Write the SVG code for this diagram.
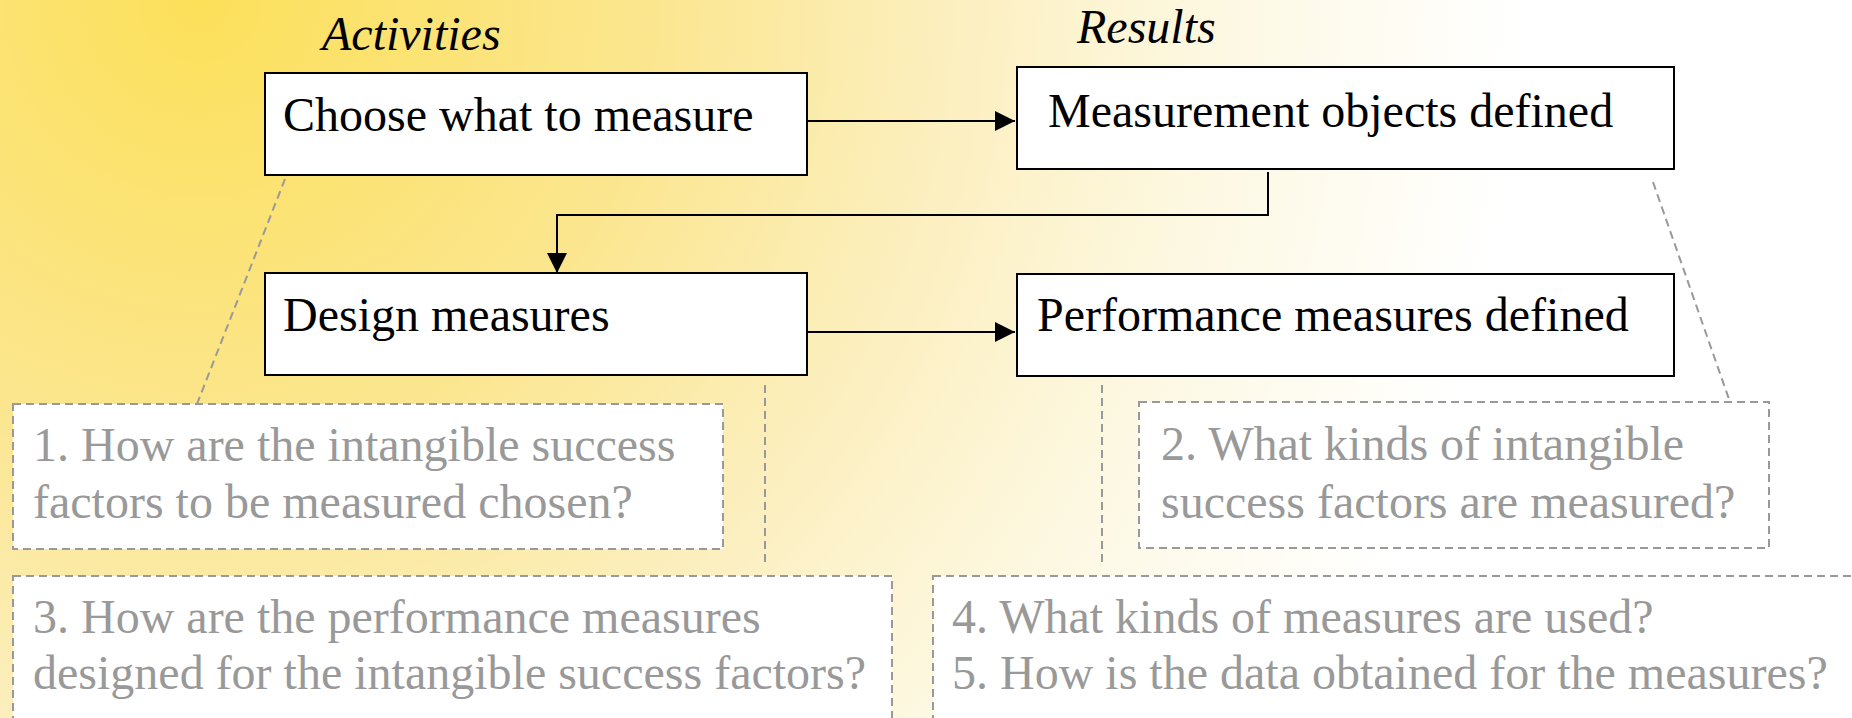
<svg xmlns="http://www.w3.org/2000/svg" width="1852" height="718" viewBox="0 0 1852 718">
  <defs>
    <radialGradient id="bg" gradientUnits="userSpaceOnUse" cx="200" cy="0" r="1500">
      <stop offset="0" stop-color="#fce05a"/>
      <stop offset="0.3" stop-color="#fbe68f"/>
      <stop offset="0.5" stop-color="#fcefbf"/>
      <stop offset="0.7" stop-color="#fdf9e6"/>
      <stop offset="0.88" stop-color="#ffffff"/>
    </radialGradient>
    <marker id="arrow" viewBox="0 0 20 20" refX="20" refY="10" markerWidth="20" markerHeight="20" markerUnits="userSpaceOnUse" orient="auto">
      <path d="M0,0 L20,10 L0,20 Z" fill="#000"/>
    </marker>
    <style>
      .box { fill: #ffffff; stroke: #000000; stroke-width: 2; }
      .qbox { fill: #ffffff; stroke: #999999; stroke-width: 2; stroke-dasharray: 8 5; }
      text { font-family: 'Liberation Serif', serif; font-size: 48px; }
      .lbl { fill: #000000; }
      .head { font-style: italic; fill: #000000; }
      .q { fill: #999999; }
      .conn { fill: none; stroke: #000000; stroke-width: 2; }
      .dash { fill: none; stroke: #999999; stroke-width: 2; stroke-dasharray: 8 5; }
    </style>
  </defs>

  <rect x="0" y="0" width="1852" height="718" fill="url(#bg)"/>

  <g id="headers" font-family="Liberation Serif, serif">
    <text class="head" x="322" y="50">Activities</text>
    <text class="head" x="1077" y="43">Results</text>
  </g>

  <g id="connectors">
    <line class="conn" x1="807" y1="121" x2="1015" y2="121" marker-end="url(#arrow)"/>
    <polyline class="conn" points="1268,172 1268,215 557,215 557,273" marker-end="url(#arrow)"/>
    <line class="conn" x1="807" y1="332" x2="1015" y2="332" marker-end="url(#arrow)"/>
    <line class="dash" x1="285" y1="179" x2="197" y2="404"/>
    <line class="dash" x1="1653" y1="182" x2="1730" y2="402"/>
    <line class="dash" x1="765" y1="385" x2="765" y2="562"/>
    <line class="dash" x1="1102" y1="385" x2="1102" y2="562"/>
  </g>

  <g id="choose">
    <rect class="box" x="265" y="73" width="542" height="102"/>
    <text class="lbl" x="283" y="131">Choose what to measure</text>
  </g>
  <g id="objects">
    <rect class="box" x="1017" y="67" width="657" height="102"/>
    <text class="lbl" x="1048" y="127">Measurement objects defined</text>
  </g>
  <g id="design">
    <rect class="box" x="265" y="273" width="542" height="102"/>
    <text class="lbl" x="283" y="331">Design measures</text>
  </g>
  <g id="performance">
    <rect class="box" x="1017" y="274" width="657" height="102"/>
    <text class="lbl" x="1037" y="331">Performance measures defined</text>
  </g>

  <g id="q1">
    <rect class="qbox" x="13" y="404" width="710" height="145"/>
    <text class="q" x="33" y="461">1. How are the intangible success</text>
    <text class="q" x="33" y="518">factors to be measured chosen?</text>
  </g>
  <g id="q2">
    <rect class="qbox" x="1139" y="402" width="630" height="146"/>
    <text class="q" x="1161" y="460">2. What kinds of intangible</text>
    <text class="q" x="1161" y="518">success factors are measured?</text>
  </g>
  <g id="q3">
    <rect class="qbox" x="13" y="576" width="879" height="170"/>
    <text class="q" x="33" y="633">3. How are the performance measures</text>
    <text class="q" x="33" y="689">designed for the intangible success factors?</text>
  </g>
  <g id="q45">
    <rect class="qbox" x="933" y="576" width="950" height="170"/>
    <text class="q" x="952" y="633">4. What kinds of measures are used?</text>
    <text class="q" x="952" y="689">5. How is the data obtained for the measures?</text>
  </g>
</svg>
